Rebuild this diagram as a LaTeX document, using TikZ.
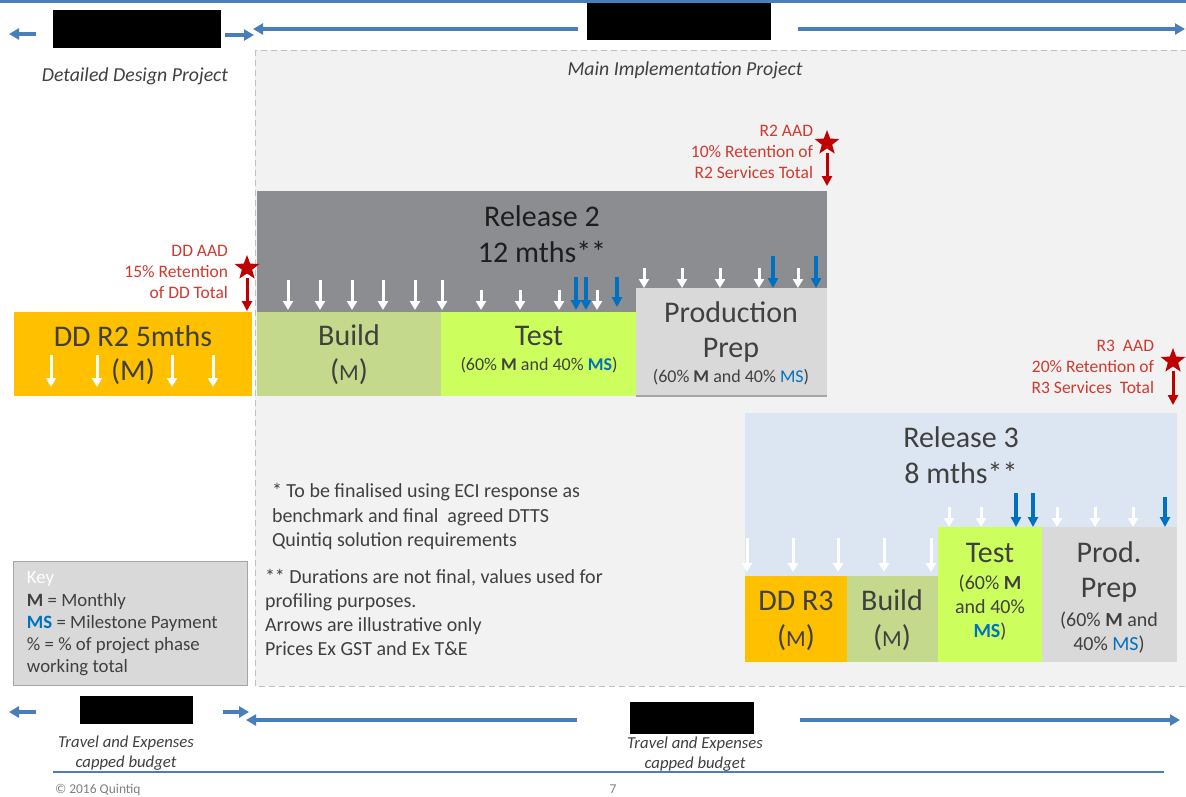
\documentclass[tikz,border=0pt]{standalone}
\usepackage{fontspec}
\setmainfont{Carlito}
\usetikzlibrary{arrows.meta,shapes.geometric}

\definecolor{hdrblue}{HTML}{4A7EBB}
\definecolor{msblue}{HTML}{0070C0}
\definecolor{aadred}{HTML}{C00000}
\definecolor{aadtext}{HTML}{D03A30}
\definecolor{ddorange}{HTML}{FFC000}
\definecolor{buildgreen}{HTML}{C4D98B}
\definecolor{testlime}{HTML}{CCFF5E}
\definecolor{prodgray}{HTML}{D9D9D9}
\definecolor{relgray}{HTML}{8B8D90}
\definecolor{relblue}{HTML}{DCE6F2}
\definecolor{areagray}{HTML}{F2F2F2}
\definecolor{areaedge}{HTML}{BFBFBF}
\definecolor{keyedge}{HTML}{A6A6A6}
\definecolor{ink}{HTML}{404040}
\definecolor{darkink}{HTML}{1E1E1E}

\tikzset{
  blk/.style={draw=none, inner sep=0pt, outer sep=0pt, anchor=north west},
  redact/.style={fill=black, inner sep=0pt, outer sep=0pt},
  txt/.style={anchor=base, inner sep=0pt, outer sep=0pt, text=ink},
  big/.style={txt, font=\fontsize{30}{30}\selectfont},
  sub/.style={txt, font=\fontsize{18}{18}\selectfont},
  subr/.style={txt, font=\fontsize{20}{20}\selectfont},
  note/.style={txt, anchor=base west, font=\fontsize{20}{20}\selectfont},
  keytxt/.style={txt, anchor=base west, font=\fontsize{18.8}{18.8}\selectfont},
  aad/.style={anchor=base east, inner sep=0pt, outer sep=0pt, text=aadtext, font=\fontsize{17.5}{17.5}\selectfont},
  aadstar/.style={star, star points=5, star point ratio=2.4, fill=aadred, draw=none, minimum size=26pt, inner sep=0pt},
  caption/.style={txt, font=\fontsize{19.8}{19.8}\selectfont\itshape},
  tecap/.style={txt, font=\fontsize{16.7}{16.7}\selectfont\itshape},
  warr/.style={draw=white, line width=3pt, -{Triangle[width=10pt,length=9pt]}},
  msarr/.style={draw=msblue, line width=3.5pt, -{Triangle[width=10pt,length=10pt]}},
  redarr/.style={draw=aadred, line width=3pt, shorten <=4pt, -{Triangle[width=10pt,length=10pt]}},
  hdr/.style={draw=hdrblue, line width=4pt, -{Triangle[width=11pt,length=10pt]}},
}

\begin{document}
\begin{tikzpicture}[x=1pt,y=-1pt]
\useasboundingbox (0,0) rectangle (1186,796);
\fill[white] (0,0) rectangle (1186,796);

% ---------- header band ----------
\draw[hdrblue, line width=2.5pt] (0,1.5) -- (1186,1.5);
\node[redact, minimum width=168pt, minimum height=38pt] (ddhdr) at (137,29) {};
\node[redact, minimum width=184pt, minimum height=37pt] (mainhdr) at (679,21.5) {};
\coordinate (hA) at (36,34);  \coordinate (hB) at (9,34);
\coordinate (hC) at (225,35); \coordinate (hD) at (254,35);
\coordinate (hE) at (578,29); \coordinate (hF) at (253,29);
\coordinate (hG) at (798,29); \coordinate (hH) at (1185,29);
\draw[hdr] (hA) -- (hB);
\draw[hdr] (hC) -- (hD);
\draw[hdr] (hE) -- (hF);
\draw[hdr] (hG) -- (hH);

\node[caption] (ddproj) at (135,81) {Detailed Design Project};

% ---------- main implementation area ----------
\draw[areaedge, fill=areagray, line width=1pt, dash pattern=on 6pt off 4pt] (255,50) rectangle (1195,686);
\node[caption] (mainproj) at (685,75) {Main Implementation Project};

% ---------- Release 2 ----------
\node[blk, fill=relgray, minimum width=570pt, minimum height=121pt] (rel2) at (257,191) {};
\node[blk, fill=buildgreen, minimum width=184pt, minimum height=84pt] (build2) at (257,312) {};
\node[blk, fill=testlime, minimum width=195pt, minimum height=84pt] (test2) at (441,312) {};
\node[blk, fill=prodgray, minimum width=191pt, minimum height=108pt] (prod2) at (636,288) {};
\draw[keyedge, line width=2pt] (prod2.south west) -- (prod2.south east);

\node[big, text=darkink] (rel2a) at (542,226) {Release 2};
\node[big, text=darkink] (rel2b) at (542,262) {12 mths**};
\node[big] (build2a) at (349,345) {Build};
\node[big] (build2b) at (349,380) {({\fontsize{23}{23}\selectfont M})};
\node[big] (test2a) at (539,345) {Test};
\node[sub] (test2b) at (539,370) {(60\% \textbf{M} and 40\% \textcolor{msblue}{\textbf{MS}})};
\node[big] (prod2a) at (731,322) {Production};
\node[big] (prod2b) at (731,357) {Prep};
\node[sub] (prod2c) at (731,382) {(60\% \textbf{M} and 40\% \textcolor{msblue}{MS})};

\foreach \x in {288,320,352,383,415,442} \draw[warr] (\x,280) -- (\x,310);
\foreach \x in {576,586} \draw[msarr] (\x,277) -- (\x,310);
\draw[msarr] (617,277) -- (617,307);
\foreach \x in {481,520,559,597} \draw[warr] (\x,290) -- (\x,310);
\foreach \x in {773,816} \draw[msarr] (\x,256) -- (\x,288);
\foreach \x in {644,682,720,759,798} \draw[warr] (\x,268) -- (\x,288);

% R2 acceptance retention
\node[aad] (r2aad1) at (813,136) {R2 AAD};
\node[aad] (r2aad2) at (813,157) {10\% Retention of};
\node[aad] (r2aad3) at (813,178) {R2 Services Total};
\node[aadstar] (r2star) at (827,143) {};
\coordinate (r2starend) at (827,186);
\draw[redarr] (r2star.south) -- (r2starend);

% ---------- Detailed design R2 ----------
\node[blk, fill=ddorange, minimum width=238pt, minimum height=84pt] (ddr2) at (14,312) {};
\node[big] (ddr2a) at (133,346) {DD R2 5mths};
\node[big] (ddr2b) at (133,380) {(M)};
\foreach \x in {51,97,172,213} \draw[warr] (\x,355) -- (\x,387);

\node[aad] (ddaad1) at (228,256) {DD AAD};
\node[aad] (ddaad2) at (228,277) {15\% Retention};
\node[aad] (ddaad3) at (228,298) {of DD Total};
\node[aadstar] (ddstar) at (247,268) {};
\coordinate (ddstarend) at (247,311);
\draw[redarr] (ddstar.south) -- (ddstarend);

% ---------- Release 3 ----------
\node[blk, fill=relblue, minimum width=432pt, minimum height=249pt] (rel3) at (745,413) {};
\node[blk, fill=ddorange, minimum width=102pt, minimum height=86pt] (ddr3) at (745,576) {};
\node[blk, fill=buildgreen, minimum width=91pt, minimum height=86pt] (build3) at (847,576) {};
\node[blk, fill=testlime, minimum width=104pt, minimum height=135pt] (test3) at (938,527) {};
\node[blk, fill=prodgray, minimum width=135pt, minimum height=135pt] (prod3) at (1042,527) {};

\node[big] (rel3a) at (961,447) {Release 3};
\node[big] (rel3b) at (961,483) {8 mths**};
\node[big] (ddr3a) at (796,610) {DD R3};
\node[big] (ddr3b) at (796,646) {({\fontsize{23}{23}\selectfont M})};
\node[big] (build3a) at (892,610) {Build};
\node[big] (build3b) at (892,646) {({\fontsize{23}{23}\selectfont M})};
\node[big] (test3a) at (990,562) {Test};
\node[subr] (test3b) at (990,589) {(60\% \textbf{M}};
\node[subr] (test3c) at (990,613) {and 40\%};
\node[subr] (test3d) at (990,637) {\textcolor{msblue}{\textbf{MS}})};
\node[big] (prod3a) at (1109,562) {Prod.};
\node[big] (prod3b) at (1109,597) {Prep};
\node[subr] (prod3c) at (1109,626) {(60\% \textbf{M} and};
\node[subr] (prod3d) at (1109,650) {40\% \textcolor{msblue}{MS})};

\foreach \x in {747,793,838,884,931} \draw[warr] (\x,538) -- (\x,572);
\foreach \x in {1016,1033} \draw[msarr] (\x,493) -- (\x,527);
\draw[msarr] (1165,497) -- (1165,527);
\foreach \x in {949,981,1057,1095,1133} \draw[warr] (\x,507) -- (\x,527);

\node[aad] (r3aad1) at (1154,351) {R3\ \ AAD};
\node[aad] (r3aad2) at (1154,372) {20\% Retention of};
\node[aad] (r3aad3) at (1154,393) {R3 Services\ \ Total};
\node[aadstar] (r3star) at (1173,361) {};
\coordinate (r3starend) at (1173,405);
\draw[redarr] (r3star.south) -- (r3starend);

% ---------- notes ----------
\node[note] (n1) at (272,497) {* To be finalised using ECI response as};
\node[note] (n2) at (272,522) {benchmark and final\ \ agreed DTTS};
\node[note] (n3) at (272,546) {Quintiq solution requirements};
\node[note] (n4) at (265,583) {** Durations are not final, values used for};
\node[note] (n5) at (265,607) {profiling purposes.};
\node[note] (n6) at (265,631) {Arrows are illustrative only};
\node[note] (n7) at (265,655) {Prices Ex GST and Ex T\&E};

% ---------- key ----------
\node[blk, fill=prodgray, draw=keyedge, line width=1pt, minimum width=234pt, minimum height=124pt] (keybox) at (13,561) {};
\node[keytxt, text=white] (k0) at (27,583) {Key};
\node[keytxt] (k1) at (27,606) {\textbf{M} = Monthly};
\node[keytxt] (k2) at (27,628) {\textcolor{msblue}{\textbf{MS}} = Milestone Payment};
\node[keytxt] (k3) at (27,650) {\% = \% of project phase};
\node[keytxt] (k4) at (27,672) {working total};

% ---------- travel and expenses band ----------
\node[redact, minimum width=113pt, minimum height=28pt] (ddte) at (136.5,710) {};
\node[redact, minimum width=124pt, minimum height=32pt] (mainte) at (692,718) {};
\coordinate (bA) at (36,712);  \coordinate (bB) at (9,712);
\coordinate (bC) at (223,712); \coordinate (bD) at (249,712);
\coordinate (bE) at (577,720); \coordinate (bF) at (246,720);
\coordinate (bG) at (800,720); \coordinate (bH) at (1180,720);
\draw[hdr] (bA) -- (bB);
\draw[hdr] (bC) -- (bD);
\draw[hdr] (bE) -- (bF);
\draw[hdr] (bG) -- (bH);
\node[tecap] (te1a) at (126,747) {Travel and Expenses};
\node[tecap] (te1b) at (126,767) {capped budget};
\node[tecap] (te2a) at (695,748) {Travel and Expenses};
\node[tecap] (te2b) at (695,768) {capped budget};

% ---------- footer ----------
\draw[hdrblue, line width=1.5pt] (53,772) -- (1164,772);
\node[txt, anchor=base west, text=black!50, font=\fontsize{13.5}{13.5}\selectfont] (copy) at (55,793) {© 2016 Quintiq};
\node[txt, text=black!50, font=\fontsize{13.5}{13.5}\selectfont] (page) at (613,793) {7};
\end{tikzpicture}
\end{document}
